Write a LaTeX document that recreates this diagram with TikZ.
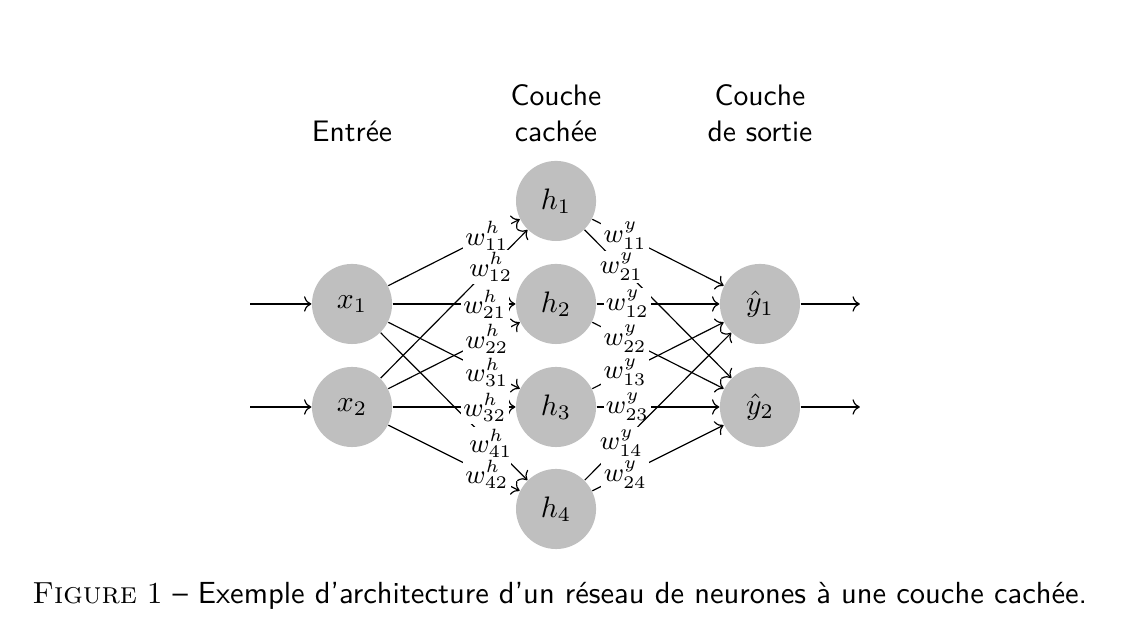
\documentclass[tikz,border=0pt]{standalone}
\usepackage{tikz}
\usetikzlibrary{arrows.meta}
\tikzset{
   neuron/.style = {circle, fill=gray!50, minimum size=9.5mm, inner sep=0pt},
   arrow/.style  = {->},
   weight/.style = {fill=white, inner sep=0.8pt, font=\small},
   layer/.style  = {font=\sffamily, align=center, anchor=south},
}
\begin{document}
\begin{tikzpicture}
   \useasboundingbox (0,0) rectangle (13.547,7.426);

   % couche d'entree
   \node[neuron] (x1) at (4.176,3.820) {$x_1$};
   \node[neuron] (x2) at (4.176,2.598) {$x_2$};

   % couche cachee
   \node[neuron] (h1) at (6.596,5.042) {$h_1$};
   \node[neuron] (h2) at (6.596,3.820) {$h_2$};
   \node[neuron] (h3) at (6.596,2.598) {$h_3$};
   \node[neuron] (h4) at (6.596,1.388) {$h_4$};

   % couche de sortie
   \node[neuron] (y1) at (9.015,3.820) {$\hat{y}_1$};
   \node[neuron] (y2) at (9.015,2.598) {$\hat{y}_2$};

   \coordinate (in1)  at (2.966,3.820);
   \coordinate (in2)  at (2.966,2.598);
   \coordinate (out1) at (10.20,3.820);
   \coordinate (out2) at (10.20,2.598);

   \node[layer] (lin)  at (4.176,5.62) {Entr\'ee};
   \node[layer] (lhid) at (6.596,5.62) {Couche\\cach\'ee};
   \node[layer] (lout) at (9.015,5.62) {Couche\\de sortie};

   \draw[arrow] (in1) -- (x1);
   \draw[arrow] (in2) -- (x2);

   \draw[arrow] (x1) -- node[weight,pos=0.75] {$w^h_{11}$} (h1);
   \draw[arrow] (x1) -- node[weight,pos=0.75] {$w^h_{21}$} (h2);
   \draw[arrow] (x1) -- node[weight,pos=0.75] {$w^h_{31}$} (h3);
   \draw[arrow] (x1) -- node[weight,pos=0.75] {$w^h_{41}$} (h4);
   \draw[arrow] (x2) -- node[weight,pos=0.75] {$w^h_{12}$} (h1);
   \draw[arrow] (x2) -- node[weight,pos=0.75] {$w^h_{22}$} (h2);
   \draw[arrow] (x2) -- node[weight,pos=0.75] {$w^h_{32}$} (h3);
   \draw[arrow] (x2) -- node[weight,pos=0.75] {$w^h_{42}$} (h4);

   \draw[arrow] (h1) -- node[weight,pos=0.25] {$w^y_{11}$} (y1);
   \draw[arrow] (h1) -- node[weight,pos=0.25] {$w^y_{21}$} (y2);
   \draw[arrow] (h2) -- node[weight,pos=0.25] {$w^y_{12}$} (y1);
   \draw[arrow] (h2) -- node[weight,pos=0.25] {$w^y_{22}$} (y2);
   \draw[arrow] (h3) -- node[weight,pos=0.25] {$w^y_{13}$} (y1);
   \draw[arrow] (h3) -- node[weight,pos=0.25] {$w^y_{23}$} (y2);
   \draw[arrow] (h4) -- node[weight,pos=0.25] {$w^y_{14}$} (y1);
   \draw[arrow] (h4) -- node[weight,pos=0.25] {$w^y_{24}$} (y2);

   \draw[arrow] (y1) -- (out1);
   \draw[arrow] (y2) -- (out2);

   \node[anchor=base, font=\fontsize{10.3pt}{12pt}\selectfont] (caption) at (6.64,0.27)
      {\textsc{Figure}~1 {\sffamily -- Exemple d'architecture d'un r\'eseau de neurones \`a une couche cach\'ee.}};
\end{tikzpicture}
\end{document}
